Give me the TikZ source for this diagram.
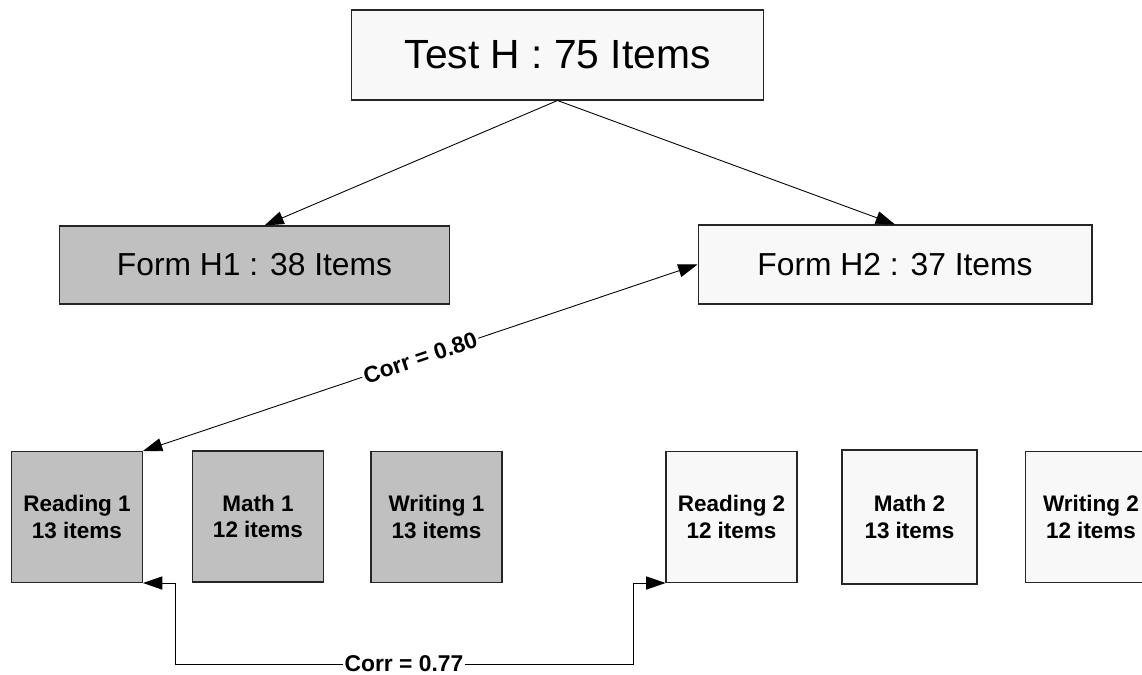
\documentclass[tikz,border=0pt]{standalone}
\usepackage{fontspec}
\setmainfont{Liberation Sans}
\usetikzlibrary{arrows.meta}
\definecolor{formgray}{RGB}{192, 192, 192}
\definecolor{formwhite}{RGB}{248, 248, 248}

\begin{document}
\begin{tikzpicture}[x=0.02cm, y=-0.02cm,
    box/.style={draw=black!85, line width=0.6pt, inner sep=0pt, align=center},
    subbox/.style={box, minimum width=2.62cm, minimum height=2.62cm,
      font=\fontsize{12.8}{15.3}\selectfont\bfseries},
    link/.style={line width=0.5pt, -{Triangle[length=11pt, width=7.5pt]}},
    twoway/.style={link, {Triangle[length=11pt, width=7.5pt]}-{Triangle[length=11pt, width=7.5pt]}},
    corr/.style={fill=white, inner sep=1pt, font=\fontsize{13}{15}\selectfont\bfseries}]
                    \useasboundingbox (0,0) rectangle (1142,675);
                    % test and its two forms
                    \node[box, fill=formwhite, minimum width=8.26cm, minimum height=1.8cm,
                      font=\fontsize{23.2}{28}\selectfont] (test) at (557.5,55) {Test H : 75 Items};
                    \node[box, fill=formgray, minimum width=7.82cm, minimum height=1.56cm,
                      font=\fontsize{18.1}{22}\selectfont] (h1) at (254.5,265) {Form H1 : 38 Items};
                    \node[box, fill=formwhite, minimum width=7.88cm, minimum height=1.58cm,
                      font=\fontsize{18.1}{22}\selectfont] (h2) at (895,264.5) {Form H2 : 37 Items};
                    % subtests
                    \node[subbox, fill=formgray] (r1) at (77,517) {Reading 1\\13 items};
                    \node[subbox, fill=formgray] (m1) at (258,516.5) {Math 1\\12 items};
                    \node[subbox, fill=formgray] (w1) at (436.5,517) {Writing 1\\13 items};
                    \node[subbox, fill=formwhite] (r2) at (731.5,517) {Reading 2\\12 items};
                    \node[subbox, fill=formwhite, minimum width=2.7cm, minimum height=2.68cm] (m2) at (909.5,517) {Math 2\\13 items};
                    \node[subbox, fill=formwhite] (w2) at (1091,517) {Writing 2\\12 items};
                    % connectors
                    \draw[link] (test.south) -- ([xshift=0.2cm]h1.north);
                    \draw[link] (test.south) -- (h2.north);
                    \draw[twoway] (r1.north east) -- node[corr, sloped] {Corr = 0.80} (h2.west);
                    \coordinate (lowL) at (175,664);
                    \coordinate (lowR) at (633,664);
                    \draw[twoway] (r1.south east) -| (lowL) -- node[corr] {Corr = 0.77} (lowR) |- (r2.south west);
                \end{tikzpicture}
\end{document}
